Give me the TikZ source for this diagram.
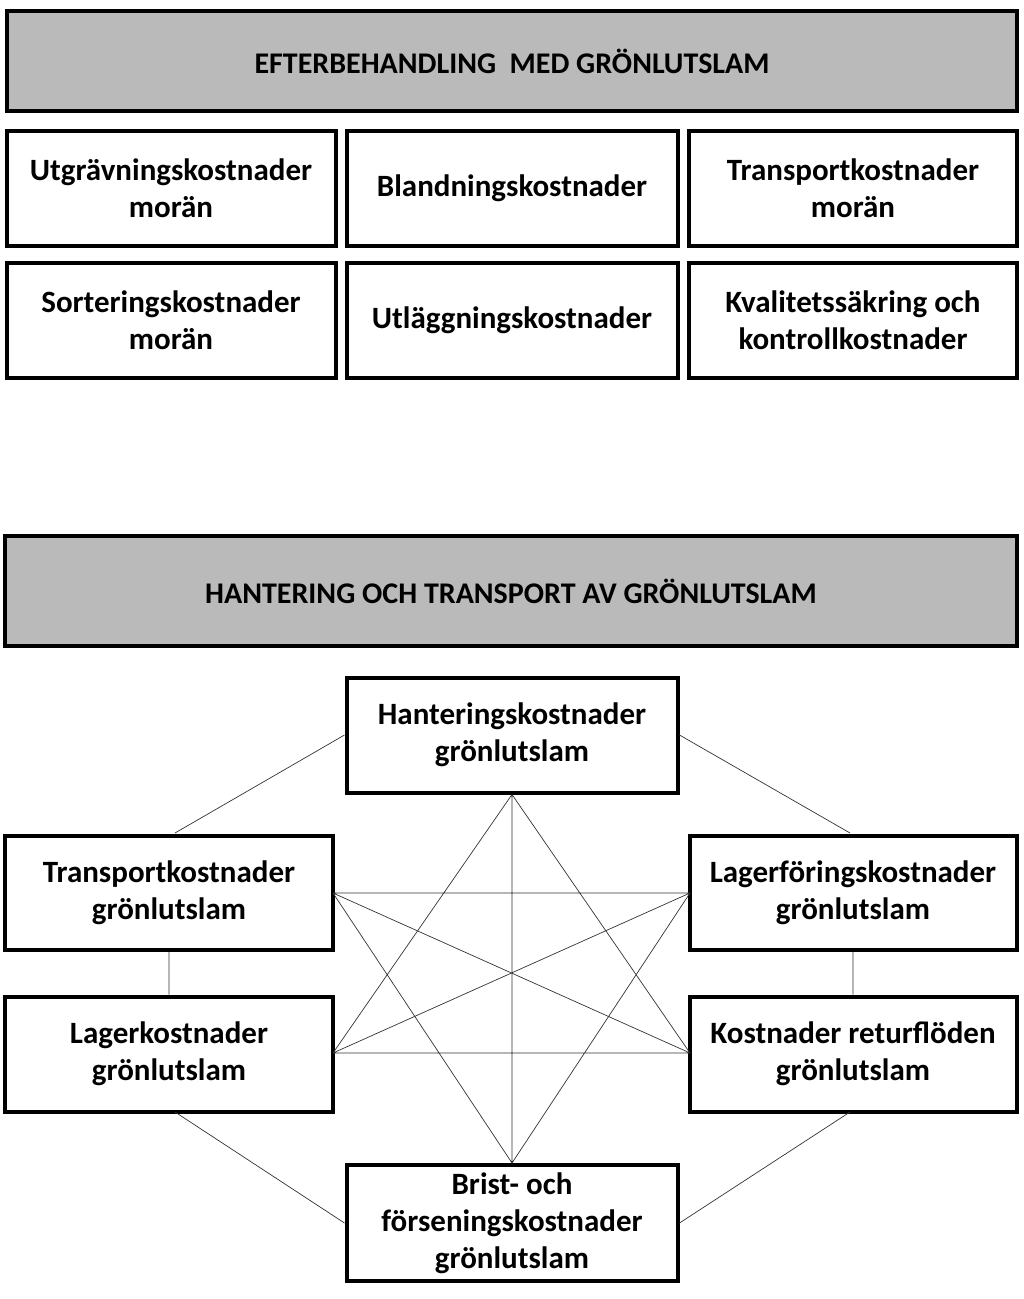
\documentclass[tikz,border=0pt]{standalone}
\usepackage{fontspec}
\setmainfont{Carlito}
\begin{document}
\begin{tikzpicture}[x=1pt,y=-1pt,
  box/.style={draw=black,line width=4pt,fill=white,align=center,font=\bfseries\fontsize{31}{37}\selectfont,inner sep=0pt},
  hdr/.style={box,fill=black!27,font=\bfseries\fontsize{30}{37}\selectfont},
  ln/.style={draw=black!80,line width=0.7pt}]
\useasboundingbox (0,0) rectangle (1024,1299);
\node[hdr,minimum width=1010,minimum height=100] (h1) at (512,61) {EFTERBEHANDLING\ \ MED GRÖNLUTSLAM};
\node[box,minimum width=329,minimum height=115] (a1) at (171,188) {Utgrävningskostnader\\morän};
\node[box,minimum width=331,minimum height=115] (a2) at (512,188) {Blandningskostnader};
\node[box,minimum width=328,minimum height=115] (a3) at (853,188) {Transportkostnader\\morän};
\node[box,minimum width=329,minimum height=115] (b1) at (171,320) {Sorteringskostnader\\morän};
\node[box,minimum width=331,minimum height=115] (b2) at (512,320) {Utläggningskostnader};
\node[box,minimum width=328,minimum height=115] (b3) at (853,320) {Kvalitetssäkring och\\kontrollkostnader};
\node[hdr,minimum width=1012,minimum height=110] (h2) at (511,591) {HANTERING OCH TRANSPORT AV GRÖNLUTSLAM};
\node[box,minimum width=331,minimum height=115] (ha) at (512,735) {Hanteringskostnader\\grönlutslam};
\node[box,minimum width=328,minimum height=114] (tr) at (169,893) {Transportkostnader\\grönlutslam};
\node[box,minimum width=328,minimum height=115] (la) at (169,1054) {Lagerkostnader\\grönlutslam};
\node[box,minimum width=327,minimum height=114] (lf) at (853,893) {Lagerföringskostnader\\grönlutslam};
\node[box,minimum width=327,minimum height=115] (re) at (853,1054) {Kostnader returflöden\\grönlutslam};
\node[box,minimum width=331,minimum height=116] (br) at (512,1223) {Brist- och\\förseningskostnader\\grönlutslam};
\coordinate (L1) at (333,893); \coordinate (L2) at (333,1053);
\coordinate (R1) at (690,893); \coordinate (R2) at (690,1053);
\path[ln] (ha.west) -- (175,833) (ha.east) -- (850,833)
 (tr.south) -- (la.north) (lf.south) -- (re.north)
 (175,1112) -- (br.west) (850,1112) -- (br.east)
 (ha.south) -- (br.north) (ha.south) -- (L2) (ha.south) -- (R2)
 (br.north) -- (L1) (br.north) -- (R1)
 (L1) -- (R1) (L2) -- (R2) (L1) -- (R2) (L2) -- (R1);
\end{tikzpicture}
\end{document}
